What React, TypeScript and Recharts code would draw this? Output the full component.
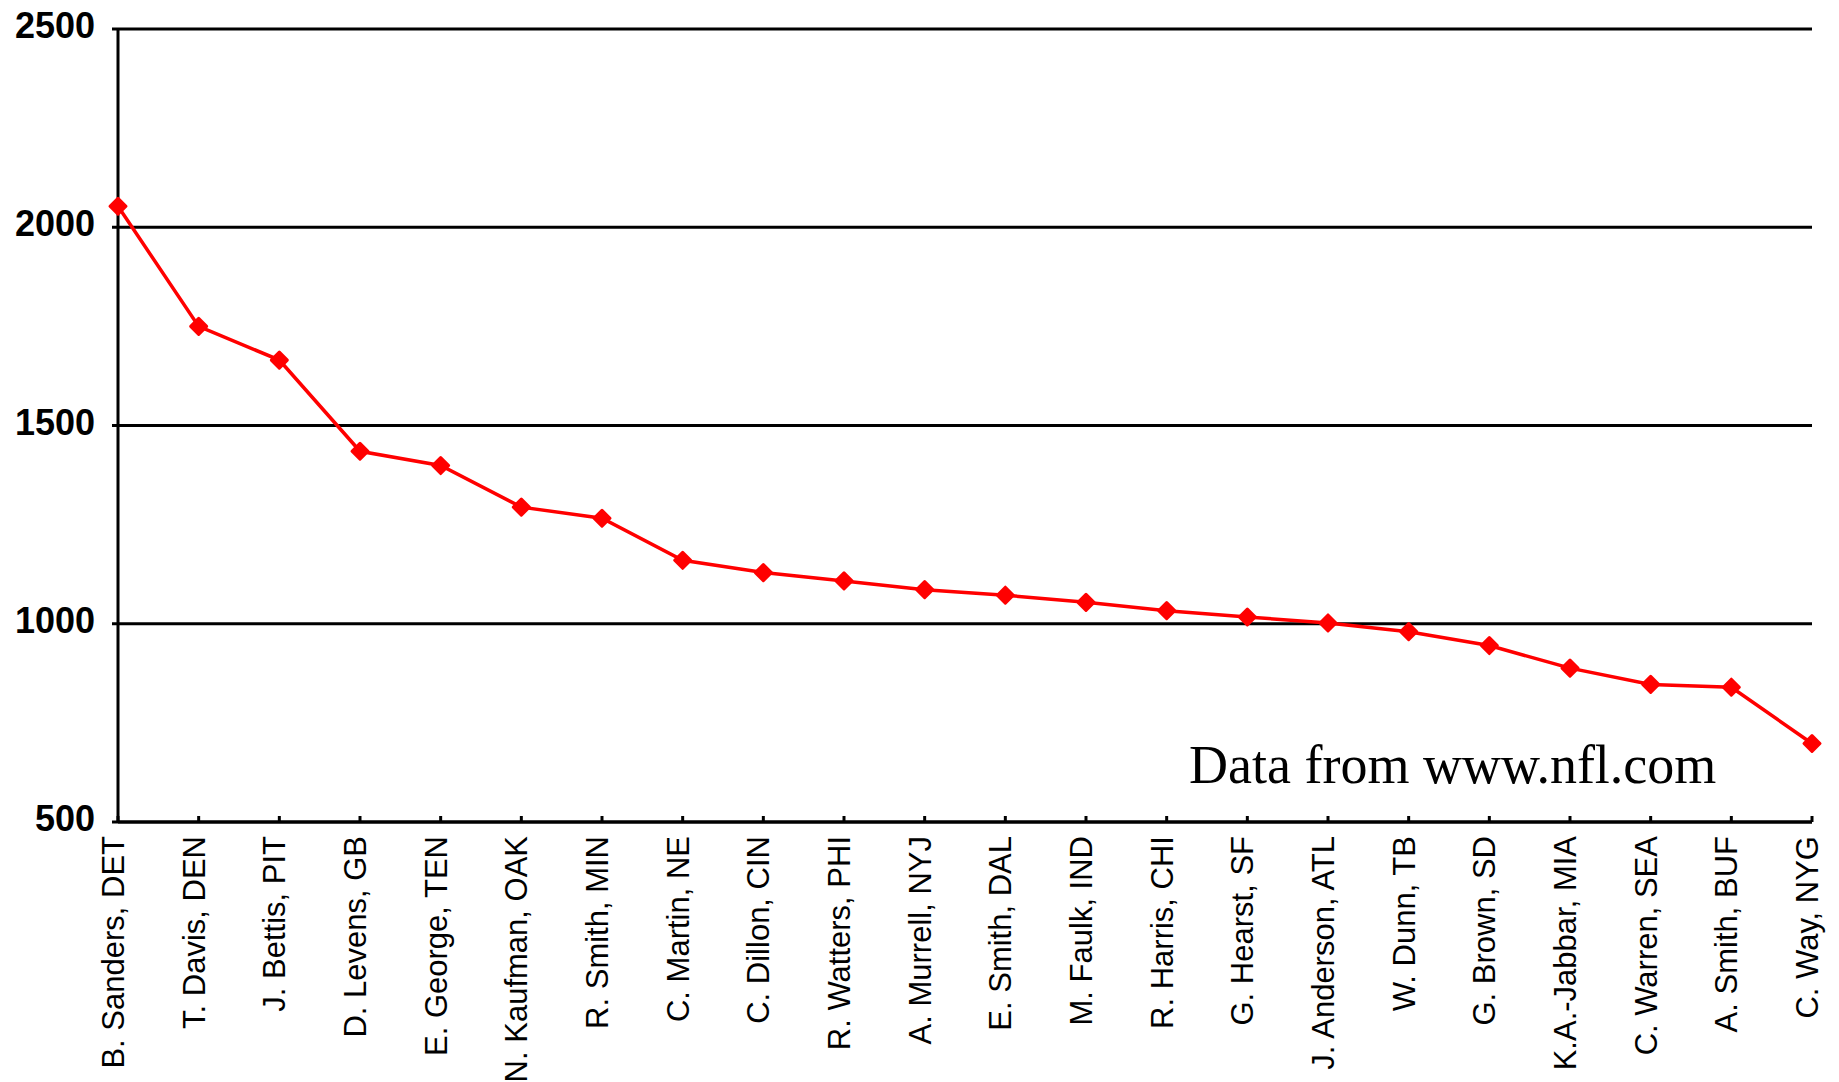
import { LineChart, Line, XAxis, YAxis, CartesianGrid } from "recharts";

// 1997 rushing leaders, yards
const players = [
  "B. Sanders, DET",
  "T. Davis, DEN",
  "J. Bettis, PIT",
  "D. Levens, GB",
  "E. George, TEN",
  "N. Kaufman, OAK",
  "R. Smith, MIN",
  "C. Martin, NE",
  "C. Dillon, CIN",
  "R. Watters, PHI",
  "A. Murrell, NYJ",
  "E. Smith, DAL",
  "M. Faulk, IND",
  "R. Harris, CHI",
  "G. Hearst, SF",
  "J. Anderson, ATL",
  "W. Dunn, TB",
  "G. Brown, SD",
  "K.A.-Jabbar, MIA",
  "C. Warren, SEA",
  "A. Smith, BUF",
  "C. Way, NYG",
];

const yards = [
  2053, 1750, 1665, 1435, 1399, 1294, 1266, 1160, 1129, 1108, 1086, 1072, 1054,
  1033, 1017, 1002, 980, 945, 888, 847, 840, 698,
];

const yTicks = [500, 1000, 1500, 2000, 2500];

const data = players.map((name, i) => ({ name, yards: yards[i] }));

const SANS = "'Liberation Sans', Arial, sans-serif";
const X_TICK_MARGIN = 14;

function PlayerTick(props: any) {
  const { x, y, payload } = props;
  const axisY = y - X_TICK_MARGIN;
  return (
    <g>
      <line x1={x} x2={x} y1={axisY} y2={axisY - 6} stroke="#000" strokeWidth={3} />
      <text
        x={x}
        y={y}
        dy={6}
        transform={`rotate(-90 ${x} ${y})`}
        textAnchor="end"
        fontSize={31}
        fontFamily={SANS}
        fill="#000"
      >
        {payload.value}
      </text>
    </g>
  );
}

function YardTick(props: any) {
  const { x, y, payload } = props;
  return (
    <text x={x} y={y} dy={9} textAnchor="end" fontSize={36} fontWeight="bold" fontFamily={SANS} fill="#000">
      {payload.value}
    </text>
  );
}

// red diamond marker, slightly rounded like the spreadsheet one
function Diamond(props: any) {
  const { cx, cy } = props;
  if (cx == null || cy == null) return null;
  const r = 8;
  return (
    <path
      d={`M${cx},${cy - r}L${cx + r},${cy}L${cx},${cy + r}L${cx - r},${cy}Z`}
      fill="#ff0000"
      stroke="#ff0000"
      strokeWidth={3}
      strokeLinejoin="round"
    />
  );
}

export default function App() {
  return (
    <div style={{ position: "absolute", left: 0, top: 0, width: 1839, height: 1082, background: "#fff" }}>
      <LineChart width={1839} height={1082} data={data} margin={{ top: 29, right: 27, left: 0, bottom: 0 }}>
        <CartesianGrid vertical={false} stroke="#000" strokeWidth={3} />
        <XAxis
          dataKey="name"
          interval={0}
          height={260}
          tickLine={false}
          tickSize={0}
          tickMargin={X_TICK_MARGIN}
          axisLine={{ stroke: "#000", strokeWidth: 3 }}
          tick={<PlayerTick />}
        />
        <YAxis
          type="number"
          domain={[500, 2500]}
          ticks={yTicks}
          width={118}
          tickSize={6}
          tickMargin={17}
          tickLine={{ stroke: "#000", strokeWidth: 3 }}
          axisLine={{ stroke: "#000", strokeWidth: 3 }}
          tick={<YardTick />}
        />
        <Line
          type="linear"
          dataKey="yards"
          stroke="#ff0000"
          strokeWidth={3.5}
          dot={<Diamond />}
          activeDot={false}
          isAnimationActive={false}
        />
      </LineChart>
      <svg width={1839} height={1082} style={{ position: "absolute", left: 0, top: 0, pointerEvents: "none" }}>
        <text x={1189} y={783} fontSize={54} fontFamily="'Liberation Serif', 'Times New Roman', serif" fill="#000">
          Data from www.nfl.com
        </text>
      </svg>
    </div>
  );
}
